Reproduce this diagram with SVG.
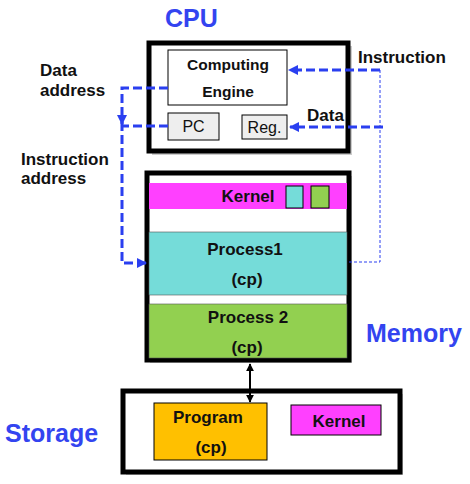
<svg xmlns="http://www.w3.org/2000/svg" width="470" height="484" viewBox="0 0 470 484">
<defs>
<style>
.t{font-family:"Liberation Sans",Arial,sans-serif;font-weight:bold;font-size:17px;fill:#111}
.c{font-family:"Liberation Sans",Arial,sans-serif;font-weight:bold;font-size:15.5px;fill:#111}
.n{font-family:"Liberation Sans",Arial,sans-serif;font-size:16px;fill:#111}
.big{font-family:"Liberation Sans",Arial,sans-serif;font-weight:bold;font-size:25px;fill:#3344f0}
.frame{fill:#fff;stroke:#000;stroke-width:5}
.shadow{fill:#999;opacity:0.5}
.dash{fill:none;stroke:#2a3ff0;stroke-width:3;stroke-dasharray:9,4}
.thin{fill:none;stroke:#2a3ff0;stroke-width:1;stroke-dasharray:3,2}
</style>
<marker id="ab" viewBox="0 0 10 10" refX="9" refY="5" markerWidth="3.4" markerHeight="3.4" orient="auto"><path d="M0,0 L10,5 L0,10 z" fill="#2a3ff0"/></marker>
<marker id="ak" viewBox="0 0 10 10" refX="9" refY="5" markerWidth="4" markerHeight="4" orient="auto-start-reverse"><path d="M0,0 L10,5 L0,10 z" fill="#000"/></marker>
</defs>
<rect width="470" height="484" fill="#fff"/>

<text class="big" x="165" y="27">CPU</text>
<text class="big" x="366" y="342">Memory</text>
<text class="big" x="5" y="442">Storage</text>

<g id="cpu">
<rect class="shadow" x="152" y="46" width="200" height="109"/>
<rect class="frame" x="149" y="43" width="199" height="108"/>
</g>
<g id="engine">
<rect x="168" y="50" width="119" height="55" fill="#fff" stroke="#000" stroke-width="1"/>
<text class="c" x="228" y="70" text-anchor="middle">Computing</text>
<text class="c" x="228" y="97" text-anchor="middle">Engine</text>
</g>
<g id="pc">
<rect x="168" y="113" width="51" height="27" fill="#eee" stroke="#000" stroke-width="1"/>
<text class="n" x="193.5" y="132" text-anchor="middle">PC</text>
</g>
<g id="reg">
<rect x="242" y="115" width="45" height="24" fill="#eee" stroke="#000" stroke-width="1"/>
<text class="n" x="264.5" y="133" text-anchor="middle">Reg.</text>
</g>

<g id="memory">
<rect class="shadow" x="150" y="176" width="202" height="187"/>
<rect class="frame" x="147" y="173" width="202" height="187"/>
<rect x="149" y="183" width="198" height="26" fill="#ff40ff"/>
<text class="t" x="248" y="202" text-anchor="middle">Kernel</text>
<rect x="286" y="186" width="17" height="22" fill="#75dcd9" stroke="#000" stroke-width="1"/>
<rect x="311" y="186" width="18" height="22" fill="#92d050" stroke="#000" stroke-width="1"/>
</g>
<g id="process1">
<rect x="149" y="232" width="198" height="63" fill="#75dcd9" stroke="#555" stroke-width="0.6"/>
<text class="t" x="245" y="255" text-anchor="middle">Process1</text>
<text class="t" x="247" y="285" text-anchor="middle">(cp)</text>
</g>
<g id="process2">
<rect x="149" y="304" width="198" height="54" fill="#92d050" stroke="#555" stroke-width="0.6"/>
<text class="t" x="248" y="323" text-anchor="middle">Process 2</text>
<text class="t" x="247" y="353" text-anchor="middle">(cp)</text>
</g>

<g id="storage">
<rect class="shadow" x="126" y="394" width="277" height="81"/>
<rect class="frame" x="123" y="391" width="277" height="81"/>
</g>
<g id="program">
<rect x="154" y="403" width="113" height="57" fill="#ffc000" stroke="#000" stroke-width="1"/>
<text class="t" x="208" y="423" text-anchor="middle">Program</text>
<text class="t" x="211" y="453" text-anchor="middle">(cp)</text>
</g>
<g id="kernel-store">
<rect x="291" y="405" width="90" height="30" fill="#ff40ff" stroke="#000" stroke-width="1"/>
<text class="t" x="339" y="427" text-anchor="middle">Kernel</text>
</g>

<g id="labels">
<text class="t" x="40" y="76">Data</text>
<text class="t" x="40" y="96">address</text>
<text class="t" x="21" y="165">Instruction</text>
<text class="t" x="21" y="184">address</text>
<text class="t" x="358" y="63">Instruction</text>
<text class="t" x="307" y="121">Data</text>
</g>

<g id="connectors">
<path class="dash" d="M168,88 H122 V124" marker-end="url(#ab)"/>
<path class="dash" d="M122,122 V263 H146" marker-end="url(#ab)"/>
<path class="dash" d="M168,126 H122"/>
<path class="dash" d="M380,70 H289" marker-end="url(#ab)"/>
<path class="dash" d="M383,127 H290" marker-end="url(#ab)"/>
<path class="thin" d="M380,70 V262 H349"/>
<line x1="250" y1="364" x2="250" y2="402" stroke="#000" stroke-width="2" marker-start="url(#ak)" marker-end="url(#ak)"/>
</g>
</svg>
